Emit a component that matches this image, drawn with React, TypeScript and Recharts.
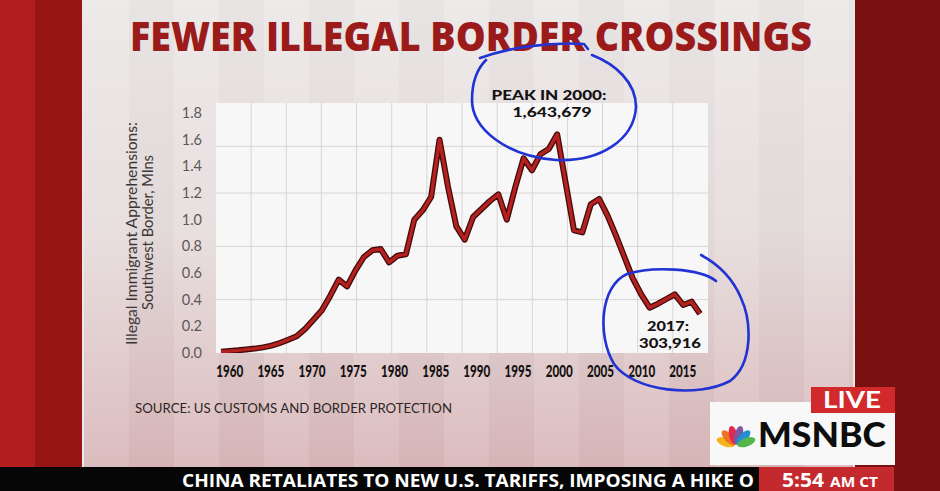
import { LineChart, Line, XAxis, YAxis, CartesianGrid } from 'recharts';

// Southwest border apprehensions (millions)
const years = [
  1960, 1961, 1962, 1963, 1964, 1965, 1966, 1967, 1968, 1969,
  1970, 1971, 1972, 1973, 1974, 1975, 1976, 1977, 1978, 1979,
  1980, 1981, 1982, 1983, 1984, 1985, 1986, 1987, 1988, 1989,
  1990, 1991, 1992, 1993, 1994, 1995, 1996, 1997, 1998, 1999,
  2000, 2001, 2002, 2003, 2004, 2005, 2006, 2007, 2008, 2009,
  2010, 2011, 2012, 2013, 2014, 2015, 2016, 2017,
];
const apprehensions = [
  0.01, 0.015, 0.02, 0.027, 0.033, 0.042, 0.055, 0.075, 0.1, 0.125,
  0.18, 0.25, 0.32, 0.43, 0.55, 0.5, 0.62, 0.72, 0.77, 0.78,
  0.68, 0.73, 0.74, 1.0, 1.07, 1.17, 1.6, 1.25, 0.95, 0.85,
  1.02, 1.08, 1.14, 1.19, 1.0, 1.24, 1.46, 1.37, 1.49, 1.53,
  1.64, 1.28, 0.92, 0.905, 1.115, 1.155, 1.03, 0.88, 0.72, 0.56,
  0.44, 0.34, 0.37, 0.405, 0.44, 0.36, 0.385, 0.295,
];
const xTicks = [1960, 1965, 1970, 1975, 1980, 1985, 1990, 1995, 2000, 2005, 2010, 2015];
const yTicks = [0, 0.2, 0.4, 0.6, 0.8, 1.0, 1.2, 1.4, 1.6, 1.8];
const gridValues = [0.4, 0.8, 1.2, 1.55];

const title = 'FEWER ILLEGAL BORDER CROSSINGS';
const axisTitle = ['Illegal Immigrant Apprehensions:', 'Southwest Border, Mlns'];
const peakNote = ['PEAK IN 2000:', '1,643,679'];
const lastNote = ['2017:', '303,916'];
const source = 'SOURCE: US CUSTOMS AND BORDER PROTECTION';
const ticker = 'CHINA RETALIATES TO NEW U.S. TARIFFS, IMPOSING A HIKE O';
const feathers = ['#f6b41c', '#f07325', '#e2294b', '#7b57a4', '#2090d1', '#55b64a'];

const X_DOMAIN: [number, number] = [1959.4, 2017.95];
const LABEL_DOMAIN: [number, number] = [1958.34, 2018.05];
const Y_MAX = 1.875;
const GRID_COLUMNS = 14;

const data = years.map((year, i) => ({ year, value: apprehensions[i] }));

function YTick({ x, y, payload }: any) {
  return (
    <text x={x - 14} y={y + 5} textAnchor="end" fontFamily="Lato" fontSize={14.5} fill="#5d5858">
      {Number(payload.value).toFixed(1)}
    </text>
  );
}

function XTick({ x, y, payload }: any) {
  return (
    <text
      x={x}
      y={y + 23.5}
      textAnchor="middle"
      fontFamily="Lato"
      fontWeight={900}
      fontSize={16}
      textLength={27}
      lengthAdjust="spacingAndGlyphs"
      fill="#151313"
    >
      {payload.value}
    </text>
  );
}

const blue = '#2233d4';

export default function App() {
  return (
    <div
      style={{
        position: 'absolute',
        left: 0,
        top: 0,
        width: 940,
        height: 491,
        overflow: 'hidden',
        background: '#7a1111',
      }}
    >
      {/* studio frame */}
      <div style={{ position: 'absolute', left: 0, top: 0, width: 35, height: 491, background: '#b21e1e' }} />
      <div style={{ position: 'absolute', left: 35, top: 0, width: 47, height: 491, background: '#961616' }} />
      <div
        style={{
          position: 'absolute',
          left: 82,
          top: 0,
          width: 773,
          height: 467,
          borderLeft: '2px solid #f1e9e9',
          borderRight: '2px solid #efe5e5',
          boxSizing: 'border-box',
          background:
            'repeating-linear-gradient(90deg, rgba(255,255,255,0.08) 0px, rgba(255,255,255,0.08) 45px, rgba(0,0,0,0.015) 45px, rgba(0,0,0,0.015) 90px), linear-gradient(180deg, #ece8e8 0%, #e6dcdc 50%, #d9b7b9 100%)',
        }}
      />

      <div style={{ position: 'absolute', left: 0, top: 0 }}>
        <LineChart width={940} height={491} data={data} margin={{ top: 103, right: 232, bottom: 108, left: 176 }}>
          <CartesianGrid
            fill="#f8f7f7"
            stroke="#d8d4d4"
            verticalCoordinatesGenerator={({ offset }: any) =>
              Array.from({ length: GRID_COLUMNS - 1 }, (_, i) => offset.left + ((i + 1) * offset.width) / GRID_COLUMNS)
            }
            horizontalCoordinatesGenerator={({ offset }: any) =>
              gridValues.map((v) => offset.top + offset.height * (1 - v / Y_MAX))
            }
          />
          <XAxis
            xAxisId="labels"
            dataKey="year"
            type="number"
            domain={LABEL_DOMAIN}
            allowDataOverflow
            ticks={xTicks}
            interval={0}
            tick={<XTick />}
            tickLine={false}
            axisLine={false}
            tickSize={0}
            tickMargin={0}
            height={30}
          />
          <XAxis dataKey="year" type="number" domain={X_DOMAIN} allowDataOverflow hide height={0} />
          <YAxis
            domain={[0, Y_MAX]}
            allowDataOverflow
            ticks={yTicks}
            interval={0}
            tick={<YTick />}
            tickLine={false}
            axisLine={false}
            tickSize={0}
            tickMargin={0}
            width={40}
          />
          <Line
            type="linear"
            dataKey="value"
            stroke="#3f0b0b"
            strokeWidth={6}
            strokeLinejoin="round"
            dot={false}
            activeDot={false}
            isAnimationActive={false}
          />
          <Line
            type="linear"
            dataKey="value"
            stroke="#b5211f"
            strokeWidth={3.4}
            strokeLinejoin="round"
            dot={false}
            activeDot={false}
            isAnimationActive={false}
          />
        </LineChart>
      </div>

      <svg width={940} height={491} style={{ position: 'absolute', left: 0, top: 0, pointerEvents: 'none' }}>
        <text
          x={130}
          y={51}
          fontFamily="Open Sans"
          fontWeight={800}
          fontSize={40}
          fill="#9b1b1b"
          textLength={682}
          lengthAdjust="spacingAndGlyphs"
        >
          {title}
        </text>

        {/* y-axis title */}
        <g transform="rotate(-90)" fontFamily="Lato" fontSize={14.5} fill="#3b3636" textAnchor="middle">
          <text x={-233.5} y={137} textLength={223} lengthAdjust="spacingAndGlyphs">{axisTitle[0]}</text>
          <text x={-232.5} y={153} textLength={155} lengthAdjust="spacingAndGlyphs">{axisTitle[1]}</text>
        </g>

        {/* annotations */}
        <g fontFamily="Lato" fontWeight={900} fill="#141212" textAnchor="middle">
          <text x={549} y={100} fontSize={14} textLength={115} lengthAdjust="spacingAndGlyphs">{peakNote[0]}</text>
          <text x={552} y={116.5} fontSize={14} textLength={79} lengthAdjust="spacingAndGlyphs">{peakNote[1]}</text>
          <text x={668} y={330.5} fontSize={14} textLength={42} lengthAdjust="spacingAndGlyphs">{lastNote[0]}</text>
          <text x={670} y={347.5} fontSize={14} textLength={62} lengthAdjust="spacingAndGlyphs">{lastNote[1]}</text>
        </g>

        {/* hand-drawn circles */}
        <g fill="none" stroke={blue} strokeWidth={2.6} strokeLinecap="round" strokeLinejoin="round">
          <path d="M 480 58 C 510 47, 550 42, 584 44 L 588 49" />
          <path d="M 592 55 C 615 64, 636 82, 636 107 C 634 140, 600 162, 556 160 C 505 156, 472 128, 472 100 C 472 84, 476 70, 486 60" />
          <path d="M 716 281 C 700 268, 652 266, 627 274 C 600 286, 597 336, 614 364 C 634 392, 698 398, 730 381 C 753 364, 752 322, 741 298 C 733 279, 718 264, 701 255" />
        </g>

        <text
          x={135}
          y={413}
          fontFamily="Lato"
          fontSize={12.5}
          fill="#2c2626"
          textLength={317}
          lengthAdjust="spacingAndGlyphs"
        >
          {source}
        </text>

        {/* network bug */}
        <rect x={710} y={402} width={185} height={63} fill="#f8f8f8" />
        <rect x={811} y={387} width={84} height={26} fill="#d2292d" />
        <text x={823} y={408} fontFamily="Lato" fontWeight={700} fontSize={22} fill="#ffffff" textLength={58} lengthAdjust="spacingAndGlyphs">
          LIVE
        </text>
        <text x={758} y={446.5} fontFamily="Lato" fontWeight={900} fontSize={34} fill="#0d0d0d" textLength={128} lengthAdjust="spacingAndGlyphs">
          MSNBC
        </text>
        <g transform="translate(736 446)">
          {feathers.map((c, i) => {
            const angle = -70 + i * 28;
            return <ellipse key={c} cx={0} cy={-11} rx={4.2} ry={9.5} fill={c} transform={`rotate(${angle})`} />;
          })}
        </g>

        {/* ticker */}
        <rect x={0} y={467} width={759} height={24} fill="#060606" />
        <text x={182} y={486.5} fontFamily="Open Sans" fontWeight={700} fontSize={17.5} fill="#ffffff" textLength={572} lengthAdjust="spacingAndGlyphs">
          {ticker}
        </text>
        <rect x={759} y={467} width={135} height={24} fill="#c4292e" />
        <text x={782} y={486.5} fontFamily="Open Sans" fontWeight={700} fontSize={19} fill="#ffffff" textLength={42} lengthAdjust="spacingAndGlyphs">
          5:54
        </text>
        <text x={830} y={486.5} fontFamily="Open Sans" fontWeight={700} fontSize={13.5} fill="#ffffff" textLength={48} lengthAdjust="spacingAndGlyphs">
          AM CT
        </text>
      </svg>
    </div>
  );
}
